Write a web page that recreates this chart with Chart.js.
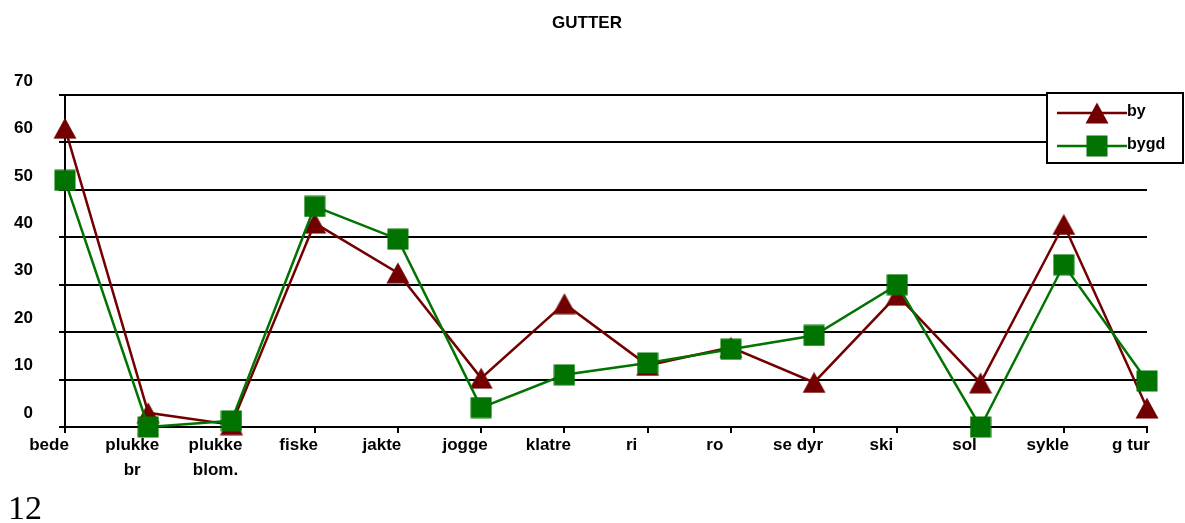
<!DOCTYPE html>
<html>
<head>
<meta charset="utf-8">
<script src="https://cdn.jsdelivr.net/npm/chart.js@4/dist/chart.umd.min.js"></script>
<style>
  html, body { margin: 0; padding: 0; background: #fff; }
  #wrap { position: relative; width: 1185px; height: 523px; }
  #c { position: absolute; left: 0; top: 0; }
  #pageno { position: absolute; left: 8px; top: 491px; font-family: "Liberation Serif", serif; font-size: 34px; line-height: 34px; color: #000; }
</style>
</head>
<body>
<div id="wrap">
  <canvas id="c" width="1185" height="523"></canvas>
  <div id="pageno">12</div>
</div>
<script>
const chartTitle = 'GUTTER';
const categories = [
  'bede', ['plukke', 'br'], ['plukke', 'blom.'], 'fiske', 'jakte', 'jogge', 'klatre',
  'ri', 'ro', 'se dyr', 'ski', 'sol', 'sykle', 'g tur'
];
const seriesNames = ['by', 'bygd'];
const byValues   = [63, 3, 0.5, 43, 32.5, 10.3, 26, 13, 16.8, 9.4, 27.8, 9.3, 42.7, 4];
const bygdValues = [52, 0, 1.3, 46.5, 39.6, 4.1, 11, 13.5, 16.4, 19.3, 30, 0, 34.2, 9.7];
const yTicks = [0, 10, 20, 30, 40, 50, 60, 70];

const RED = '#730000';
const GREEN = '#007300';
const FONT = '"Liberation Sans", Arial, sans-serif';

function triangleImg(color) {
  const c = document.createElement('canvas');
  c.width = 24; c.height = 22;
  const g = c.getContext('2d');
  g.fillStyle = color;
  g.beginPath();
  g.moveTo(12, 0.5); g.lineTo(23.5, 21.5); g.lineTo(0.5, 21.5); g.closePath();
  g.fill();
  return c;
}
function squareImg(color) {
  const c = document.createElement('canvas');
  c.width = 22; c.height = 22;
  const g = c.getContext('2d');
  g.fillStyle = color;
  g.fillRect(0.5, 0.5, 21, 21);
  return c;
}
const triImg = triangleImg(RED);
const sqImg = squareImg(GREEN);

const decorPlugin = {
  id: 'decor',
  afterDraw(chart) {
    const ctx = chart.ctx;
    ctx.save();
    // title
    ctx.fillStyle = '#000';
    ctx.font = 'bold 17px ' + FONT;
    ctx.textAlign = 'center';
    ctx.textBaseline = 'middle';
    ctx.fillText(chartTitle, 587, 23);
    // legend box
    const bx = 1047, by = 93, bw = 136, bh = 70;
    ctx.fillStyle = '#fff';
    ctx.fillRect(bx, by, bw, bh);
    ctx.strokeStyle = '#000';
    ctx.lineWidth = 2;
    ctx.strokeRect(bx, by, bw, bh);
    const rows = [113, 146];
    chart.data.datasets.forEach((ds, i) => {
      const y = rows[i];
      ctx.strokeStyle = ds.borderColor;
      ctx.lineWidth = 2.5;
      ctx.beginPath();
      ctx.moveTo(1057, y); ctx.lineTo(1127, y); ctx.stroke();
      const img = ds.pointStyle;
      ctx.drawImage(img, 1097 - img.width / 2, y - img.height / 2);
      ctx.fillStyle = '#000';
      ctx.font = 'bold 16px ' + FONT;
      ctx.textAlign = 'left';
      ctx.textBaseline = 'middle';
      ctx.fillText(ds.label, 1127, y - 1);
    });
    ctx.restore();
  }
};

new Chart(document.getElementById('c'), {
  type: 'line',
  data: {
    labels: categories,
    datasets: [
      { label: seriesNames[0], data: byValues, borderColor: RED, backgroundColor: RED,
        borderWidth: 2.5, pointStyle: triImg, pointRadius: 11, clip: false, order: 2, tension: 0 },
      { label: seriesNames[1], data: bygdValues, borderColor: GREEN, backgroundColor: GREEN,
        borderWidth: 2.5, pointStyle: sqImg, pointRadius: 11, clip: false, order: 1, tension: 0 }
    ]
  },
  options: {
    responsive: false,
    animation: false,
    events: [],
    layout: { padding: { top: 95, right: 38, left: 0, bottom: 0 } },
    plugins: { legend: { display: false }, title: { display: false }, tooltip: { enabled: false } },
    scales: {
      x: {
        offset: false,
        afterFit: s => { s.height = 96; },
        grid: { drawOnChartArea: false, drawTicks: true, tickLength: 6, color: '#000', lineWidth: 2 },
        border: { display: true, color: '#000', width: 2 },
        ticks: {
          color: '#000', padding: 0, labelOffset: -16, autoSkip: false, maxRotation: 0,
          font: { family: FONT, size: 17, weight: 'bold', lineHeight: 1.47 }
        }
      },
      y: {
        min: 0, max: 70,
        afterFit: s => { s.width = 65; },
        afterBuildTicks: s => { s.ticks = yTicks.map(v => ({ value: v })); },
        grid: { color: '#000', lineWidth: 2, tickLength: 6, drawTicks: true },
        border: { display: true, color: '#000', width: 2 },
        ticks: {
          color: '#000', padding: 26, labelOffset: -14,
          font: { family: FONT, size: 17, weight: 'bold' }
        }
      }
    }
  },
  plugins: [decorPlugin]
});
</script>
</body>
</html>
